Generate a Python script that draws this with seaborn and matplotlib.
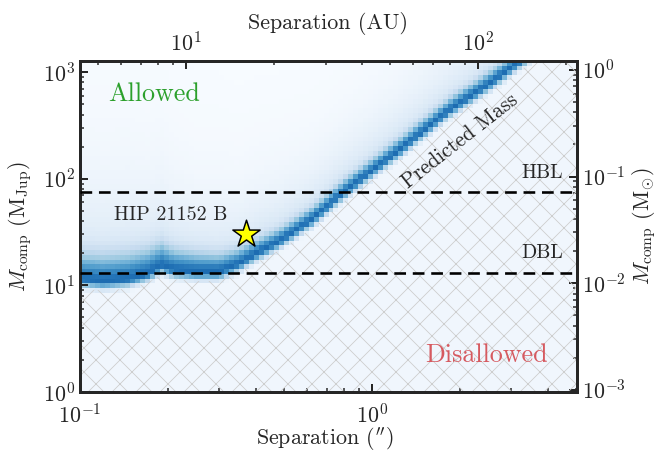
import numpy as np
import matplotlib
matplotlib.use("Agg")
import matplotlib.pyplot as plt
import seaborn as sns

# Ridge of the predicted companion mass vs projected separation
ridge_sep = [0.10, 0.12, 0.146, 0.17, 0.19, 0.21, 0.25, 0.30, 0.35, 0.40, 0.48, 0.57, 0.62, 0.80, 1.25, 1.85, 2.74, 3.8, 5.2]
ridge_mass = [11.5, 11.0, 11.5, 13.0, 15.5, 14.0, 13.5, 13.5, 16.0, 20.0, 26.0, 36.0, 42.0, 75.0, 190.0, 450.0, 920.0, 1800.0, 3300.0]
# spread of the dense band above the ridge (dex)
band_width = [0.15, 0.15, 0.15, 0.14, 0.13, 0.12, 0.11, 0.10, 0.085, 0.075, 0.07, 0.065, 0.065, 0.065, 0.065, 0.065, 0.065, 0.065, 0.065]
# extent of the faint wing above the band (dex)
wing_width = [0.6, 0.6, 0.6, 0.55, 0.55, 0.5, 0.45, 0.45, 0.4, 0.4, 0.38, 0.36, 0.35, 0.35, 0.35, 0.35, 0.35, 0.35, 0.35]

hbl_mass = 75.0
dbl_mass = 13.0
star_sep = 0.37
star_mass = 30.0
distance_pc = 43.3
mjup_per_msun = 1047.57
au_ticks = [10, 100]
msun_ticks = [1e-3, 1e-2, 1e-1, 1e0]

sns.set_style("ticks")
plt.rcParams.update({
    "font.family": "serif",
    "font.serif": ["cmr10", "DejaVu Serif"],
    "mathtext.fontset": "cm",
    "axes.formatter.use_mathtext": True,
    "axes.unicode_minus": True,
    "xtick.direction": "in",
    "ytick.direction": "in",
    "xtick.top": False,
    "ytick.right": False,
    "hatch.linewidth": 0.8,
})

fig = plt.figure(figsize=(658 / 72, 451 / 72), dpi=72)
ax = fig.add_axes([80 / 658, 1 - 392 / 451, 497 / 658, 331 / 451])

xlim = (0.1, 5.03)
ylim = (1.0, 1270.0)

# density of allowed companion masses on a log grid
xe = np.logspace(np.log10(xlim[0]), np.log10(xlim[1]), 101)
ye = np.logspace(np.log10(ylim[0]), np.log10(ylim[1]), 71)
xc = np.sqrt(xe[1:] * xe[:-1])
yc = np.sqrt(ye[1:] * ye[:-1])
lr = np.interp(np.log10(xc), np.log10(ridge_sep), np.log10(ridge_mass))
bw = np.interp(np.log10(xc), np.log10(ridge_sep), band_width)[None, :]
ww = np.interp(np.log10(xc), np.log10(ridge_sep), wing_width)[None, :]
d = np.log10(yc)[:, None] - lr[None, :]
upper = 0.68 * np.exp(-0.5 * (d / bw) ** 2) + 0.32 * np.exp(-np.clip(d, 0, None) / ww)
lower = np.exp(-0.5 * (d / 0.05) ** 2)
z = np.where(d < 0, np.maximum(lower, 0.05), upper)
ax.pcolormesh(xe, ye, z, cmap="Blues", vmin=0, vmax=1.3, shading="flat", zorder=0, rasterized=True)

# hatched region below the predicted mass
xs = np.logspace(np.log10(xlim[0]), np.log10(xlim[1]), 400)
edge = 10 ** (np.interp(np.log10(xs), np.log10(ridge_sep), np.log10(ridge_mass)) - 0.09)
ax.fill_between(xs, ylim[0], edge, facecolor="none", edgecolor="#cdcdcd", hatch="x", linewidth=0, zorder=1)

for m in (hbl_mass, dbl_mass):
    ax.axhline(m, color="black", lw=2.6, dashes=(4.5, 2.6), zorder=3)

sns.scatterplot(x=[star_sep], y=[star_mass], marker="*", s=820, color="#ffff00",
                edgecolor="black", linewidth=1.5, zorder=5, ax=ax, legend=False)

ax.set_xscale("log")
ax.set_yscale("log")
ax.set_xlim(*xlim)
ax.set_ylim(*ylim)

fs = 20
ax.text(0.125, 620, "Allowed", color="#2ca02c", fontsize=26, ha="left", va="center")
ax.text(4.0, 2.2, "Disallowed", color="#d65a60", fontsize=26, ha="right", va="center")
ax.text(0.205, 46, "HIP 21152 B", fontsize=fs, ha="center", va="center")
ax.text(4.5, 114, "HBL", fontsize=fs, ha="right", va="center")
ax.text(4.5, 20.3, "DBL", fontsize=fs, ha="right", va="center")
ax.text(2.0, 225, "Predicted Mass", fontsize=21, ha="center", va="center", rotation=38)

lfs = 22
ax.set_xlabel(r"Separation ($^{\prime\prime}$)", fontsize=lfs)
ax.set_ylabel(r"$M_{\rm comp}$ $({\rm M_{Jup}})$", fontsize=lfs)

top = ax.secondary_xaxis("top", functions=(lambda s: s * distance_pc, lambda a: a / distance_pc))
top.set_xticks(au_ticks)
top.set_xlabel("Separation (AU)", fontsize=lfs, labelpad=3)
right = ax.secondary_yaxis("right", functions=(lambda m: m / mjup_per_msun, lambda s: s * mjup_per_msun))
right.set_yticks(msun_ticks)
right.set_ylabel(r"$M_{\rm comp}$ $({\rm M_{\odot}})$", fontsize=lfs, labelpad=4)

tfs = 22
for a in (ax, top, right):
    a.tick_params(which="major", length=8, width=2, labelsize=tfs, direction="in", pad=5)
    a.tick_params(which="minor", length=4, width=1.5, direction="in")
    for sp in a.spines.values():
        sp.set_linewidth(3)
ax.tick_params(axis="x", which="major", pad=11)

ax.xaxis.set_label_coords((325 - 80) / 497, (392 - 425) / 331)
ax.yaxis.set_label_coords((35 - 80) / 497, 0.5)

fig.savefig("out.png", dpi=72)
